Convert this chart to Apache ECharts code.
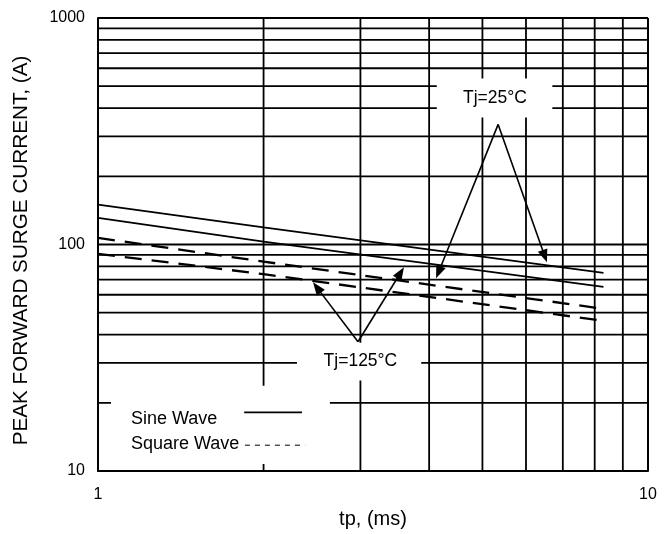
<!DOCTYPE html>
<html><head><meta charset="utf-8">
<script src="https://cdn.jsdelivr.net/npm/echarts@6/dist/echarts.min.js"></script>
<style>html,body{margin:0;padding:0;background:#fff}#c{width:670px;height:534px}</style>
</head><body><div id="c"></div>
<script>
// ---- data ----
const xGridValues = [1, 2, 3, 4, 5, 6, 7, 8, 9, 10];
const yGridValues = [10, 20, 30, 40, 50, 60, 70, 80, 90, 100, 200, 300, 400, 500, 600, 700, 800, 900, 1000];
const xTickLabels = ['1', '10'];
const yTickLabels = ['10', '100', '1000'];
const tp = [1, 2, 8.3];
const sine25 = [150, 119, 75];
const sine125 = [131, 103, 65];
const square25 = [107, 84, 52];
const square125 = [91, 74, 46];
const legendNames = ['Sine Wave', 'Square Wave'];
const tjLabels = ['Tj=25°C', 'Tj=125°C'];

// ---- annotation placement (data units) ----
const boxes = [[4.13, 6.70, 364, 540], [2.30, 3.87, 25.1, 36.8], [1.056, 2.64, 10.73, 23.8]];
const labelPos = [[5.27, 441], [3.0, 30.4]];
const arrowSets = [
  { apex: [5.34, 339], tips: [[4.118, 70.9], [6.55, 83.4]] },
  { apex: [2.97, 37.2], tips: [[2.46, 68.1], [3.60, 79.3]] }
];
const legendText = [[1.148, 16.9], [1.148, 13.13]];
const legendSample = [[1.844, 2.349, 18.15], [1.85, 2.38, 13.0]];

const FONT = '"Liberation Sans", Arial, sans-serif';
const chart = echarts.init(document.getElementById('c'), null, { renderer: 'canvas' });

function pairs(xs, ys) { return xs.map((x, i) => [x, ys[i]]); }

function gridRender(params, api) {
  const children = [];
  xGridValues.forEach(v => {
    const a = api.coord([v, 10]), b = api.coord([v, 1000]);
    children.push({ type: 'line', shape: { x1: a[0], y1: a[1], x2: b[0], y2: b[1] },
      style: { stroke: '#000', lineWidth: (v === 10) ? 2 : 1.8 } });
  });
  yGridValues.forEach(v => {
    const a = api.coord([1, v]), b = api.coord([10, v]);
    children.push({ type: 'line', shape: { x1: a[0], y1: a[1], x2: b[0], y2: b[1] },
      style: { stroke: '#000', lineWidth: (v === 1000) ? 2 : 1.8 } });
  });
  return { type: 'group', children };
}

function boxRender(params, api) {
  const children = boxes.map(b => {
    const p1 = api.coord([b[0], b[3]]), p2 = api.coord([b[1], b[2]]);
    return { type: 'rect', shape: { x: p1[0], y: p1[1], width: p2[0] - p1[0], height: p2[1] - p1[1] },
      style: { fill: '#fff' } };
  });
  return { type: 'group', children };
}

function arrowShapes(api, apex, tip) {
  const a = api.coord(apex), t = api.coord(tip);
  const dx = t[0] - a[0], dy = t[1] - a[1], len = Math.hypot(dx, dy);
  const ux = dx / len, uy = dy / len, hl = 13, hw = 5;
  const bx = t[0] - ux * hl, by = t[1] - uy * hl;
  return [
    { type: 'line', shape: { x1: a[0], y1: a[1], x2: bx + ux, y2: by + uy }, style: { stroke: '#000', lineWidth: 1.6 } },
    { type: 'polygon', shape: { points: [[t[0], t[1]], [bx - uy * hw, by + ux * hw], [bx + uy * hw, by - ux * hw]] },
      style: { fill: '#000' } }
  ];
}

function annoRender(params, api) {
  const children = [];
  arrowSets.forEach(s => s.tips.forEach(t => children.push(...arrowShapes(api, s.apex, t))));
  tjLabels.forEach((txt, i) => {
    const p = api.coord(labelPos[i]);
    children.push({ type: 'text', style: { text: txt, x: p[0], y: p[1], align: 'center', verticalAlign: 'middle',
      font: '17.5px ' + FONT, fill: '#000' } });
  });
  legendNames.forEach((txt, i) => {
    const p = api.coord(legendText[i]);
    children.push({ type: 'text', style: { text: txt, x: p[0], y: p[1], align: 'left', verticalAlign: 'middle',
      font: '18px ' + FONT, fill: '#000' } });
    const s = legendSample[i];
    const a = api.coord([s[0], s[2]]), b = api.coord([s[1], s[2]]);
    children.push({ type: 'line', shape: { x1: a[0], y1: a[1], x2: b[0], y2: b[1] },
      style: { stroke: '#000', lineWidth: i === 0 ? 1.6 : 1, lineDash: i === 0 ? null : [5, 5] } });
  });
  return { type: 'group', children };
}

const lineBase = { type: 'line', showSymbol: false, symbol: 'none', silent: true, z: 5, animation: false };

chart.setOption({
  animation: false,
  backgroundColor: '#fff',
  grid: { left: 98, right: 22, top: 18, bottom: 60, containLabel: false },
  xAxis: {
    type: 'log', logBase: 10, min: 1, max: 10,
    name: 'tp, (ms)', nameLocation: 'middle', nameGap: 38,
    nameTextStyle: { fontFamily: FONT, fontSize: 20, color: '#000' },
    axisLine: { show: true, lineStyle: { color: '#000', width: 2 } },
    axisTick: { show: false },
    splitLine: { show: false },
    axisLabel: { fontFamily: FONT, fontSize: 16, color: '#000', margin: 16,
      formatter: v => xTickLabels.find(t => Math.abs(Number(t) - v) < 1e-6) || '' }
  },
  yAxis: {
    type: 'log', logBase: 10, min: 10, max: 1000,
    name: 'PEAK FORWARD SURGE CURRENT, (A)', nameLocation: 'middle', nameGap: 66, nameRotate: 90,
    nameTextStyle: { fontFamily: FONT, fontSize: 20.7, color: '#000', padding: [0, 12, 0, 0] },
    axisLine: { show: true, lineStyle: { color: '#000', width: 2 } },
    axisTick: { show: false },
    splitLine: { show: false },
    axisLabel: { fontFamily: FONT, fontSize: 16, color: '#000', margin: 13,
      formatter: v => yTickLabels.find(t => Math.abs(Number(t) - v) < 1e-6) || '' }
  },
  series: [
    { type: 'custom', name: 'grid', z: 1, silent: true, renderItem: gridRender, data: [[1, 10]], encode: { x: 0, y: 1 } },
    { type: 'custom', name: 'boxes', z: 2, silent: true, renderItem: boxRender, data: [[1, 10]], encode: { x: 0, y: 1 } },
    Object.assign({}, lineBase, { name: 'Sine 25', data: pairs(tp, sine25), lineStyle: { color: '#000', width: 1.7 } }),
    Object.assign({}, lineBase, { name: 'Sine 125', data: pairs(tp, sine125), lineStyle: { color: '#000', width: 1.7 } }),
    Object.assign({}, lineBase, { name: 'Square 25', data: pairs(tp, square25), lineStyle: { color: '#000', width: 2.3, type: [17, 10] } }),
    Object.assign({}, lineBase, { name: 'Square 125', data: pairs(tp, square125), lineStyle: { color: '#000', width: 2.3, type: [17, 10] } }),
    { type: 'custom', name: 'annotations', z: 6, silent: true, renderItem: annoRender, data: [[1, 10]], encode: { x: 0, y: 1 } }
  ]
});
</script>
</body></html>
